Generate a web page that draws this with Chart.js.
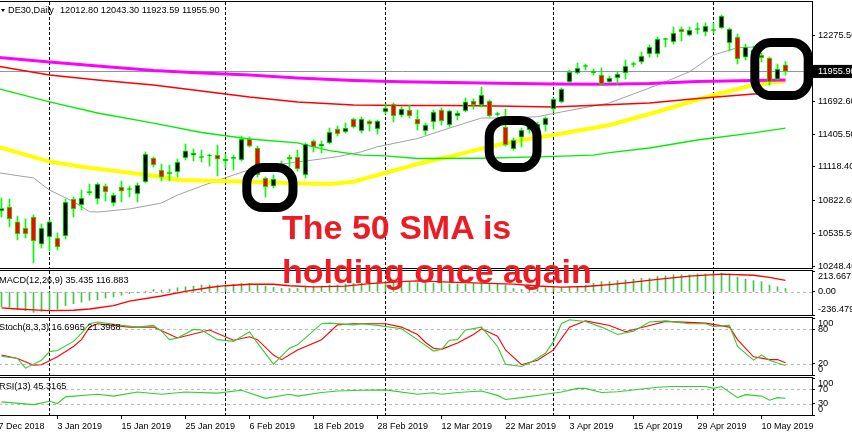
<!DOCTYPE html>
<html>
<head>
<meta charset="utf-8">
<script src="https://cdn.jsdelivr.net/npm/chart.js@4.4.0/dist/chart.umd.min.js"></script>
<style>
    html, body { margin: 0; padding: 0; background: #fff; }
    #wrap { position: relative; width: 852px; height: 437px; overflow: hidden; background: #fff; font-family: "Liberation Sans", Arial, sans-serif; }
    canvas { position: absolute; left: -7px; }
    .frame { position: absolute; left: -2px; width: 815px; box-sizing: border-box; border: 1px solid #000; border-left: none; pointer-events: none; }
    .hdr { position: absolute; font-size: 9.2px; line-height: 11px; white-space: pre; color: #000; }
    .tri { position: absolute; left: 1px; top: 9px; width: 0; height: 0; border-left: 2.5px solid transparent; border-right: 2.5px solid transparent; border-top: 3px solid #000; }
    #note { position: absolute; left: 282px; top: 206px; font-family: "Liberation Sans", Arial, sans-serif; font-weight: bold; font-size: 34px; line-height: 43.5px; color: #ed1c24; white-space: nowrap; }
</style>
</head>
<body>
<div id="wrap">
    <canvas id="mainChart" width="859" height="298" style="top:-14px"></canvas>
    <canvas id="macdChart" width="859" height="76" style="top:255px"></canvas>
    <canvas id="stochChart" width="859" height="89" style="top:302px"></canvas>
    <canvas id="rsiChart" width="859" height="75" style="top:362px"></canvas>

    <div class="frame" style="top:1px;height:268px"></div>
    <div class="frame" style="top:270px;height:46px"></div>
    <div class="frame" style="top:317px;height:59px"></div>
    <div class="frame" style="top:377px;height:39px"></div>

    <div class="tri"></div>
    <div class="hdr" style="left:8px;top:4.6px">DE30,Daily<span style="margin-left:6px">12012.80 12043.30 11923.59 11955.90</span></div>
    <div class="hdr" style="left:-1px;top:275px">MACD(12,26,9) 35.435 116.883</div>
    <div class="hdr" style="left:-1px;top:322.3px">Stoch(8,3,3) 16.6965 21.3968</div>
    <div class="hdr" style="left:-1px;top:381.3px">RSI(13) 45.3165</div>

    <div id="note">The 50 SMA is<br>holding once again</div>
</div>

<script>
// daily bars, index 1 = first visible bar, 99 = 15 May 2019
const opens = [10731,10766,10635,10582,10678,10441,10503,10494,10512,10836,
    10784,10893,10836,10950,10801,10942,10920,10880,10986,11196,
    11091,11073,11073,11196,11222,11201,11218,11222,11170,11192,
    11179,11363,11284,11021,10950,11126,11205,11205,11047,11345,
    11301,11328,11451,11424,11538,11433,11521,11451,11600,11670,
    11573,11617,11538,11433,11512,11617,11486,11565,11609,11696,
    11661,11696,11578,11468,11275,11380,11442,11433,11486,11626,
    11688,11863,11942,11999,11946,11924,11863,11898,11942,12017,
    12039,12109,12109,12236,12214,12328,12275,12324,12302,12315,
    12337,12205,12258,12082,12082,12100,12074,11889,12012.8];
const highs = [10845,10836,10687,10661,10696,10617,10652,10538,10836,10854,
    10915,10968,10977,10968,10889,10994,10950,10977,11249,11205,
    11143,11135,11187,11319,11275,11266,11231,11310,11231,11222,
    11389,11380,11301,11029,11047,11170,11222,11266,11328,11354,
    11345,11459,11477,11503,11547,11556,11530,11530,11670,11679,
    11644,11661,11617,11503,11617,11635,11617,11609,11723,11714,
    11819,11705,11600,11626,11372,11459,11503,11512,11556,11723,
    11810,11968,12030,12021,11977,11986,11916,11951,12056,12039,
    12126,12188,12258,12249,12346,12346,12346,12381,12381,12381,
    12451,12337,12284,12196,12179,12118,12082,12021,12043.3];
const lows = [10678,10591,10477,10494,10275,10406,10380,10389,10485,10678,
    10740,10871,10793,10819,10775,10810,10854,10810,10977,11117,
    10994,10994,11029,11179,11170,11161,11126,11038,11108,11091,
    11170,11293,11029,10854,10933,11073,11117,11082,11021,11249,
    11240,11319,11389,11415,11459,11415,11433,11407,11582,11512,
    11556,11547,11442,11398,11451,11486,11468,11530,11600,11626,
    11644,11556,11565,11301,11266,11293,11415,11398,11433,11600,
    11679,11854,11933,11968,11924,11837,11854,11845,11889,11995,
    12021,12082,12082,12170,12196,12223,12267,12284,12267,12293,
    12333,12135,12021,12056,12056,12039,11837,11881,11923.59];
const closes = [10755,10661,10529,10529,10468,10582,10635,10415,10810,10749,
    10845,10902,10968,10898,10871,10906,10928,10959,11231,11135,
    11029,11056,11161,11258,11240,11209,11222,11187,11187,11201,
    11363,11301,11047,10942,11012,11099,11187,11100,11319,11293,
    11319,11424,11407,11459,11468,11538,11494,11521,11635,11565,
    11626,11565,11494,11486,11600,11521,11609,11591,11688,11661,
    11749,11565,11587,11310,11354,11442,11486,11494,11547,11714,
    11802,11951,11986,12008,11955,11845,11898,11933,12003,12025,
    12091,12170,12240,12245,12293,12302,12319,12332,12354,12324,
    12442,12328,12065,12170,12144,12074,11863,11977,11955.9];

// moving averages, [bar, price]
const sma200 = [[0,12083],[7,12038],[13,12003],[20,11964],[26,11942],[32,11924],[38,11898],[45,11876],[51,11866],
    [57,11859],[63,11852],[70,11846],[76,11843],[82,11850],[88,11867],[95,11876],[99,11881]];
const sma100 = [[0,12008],[7,11924],[13,11881],[20,11837],[26,11784],[32,11731],[38,11688],[45,11661],[51,11657],
    [57,11657],[63,11652],[70,11644],[76,11661],[82,11679],[88,11718],[95,11758],[99,11766]];
const smaGreen = [[0,11815],[7,11688],[13,11591],[20,11503],[26,11420],[32,11363],[38,11328],[42,11260],[46,11222],
    [49,11214],[53,11192],[61,11194],[69,11208],[75,11222],[77,11243],[82,11284],[88,11354],[95,11416],[99,11459]];
const sma50 = [[0,11306],[7,11164],[11,11120],[16,11076],[21,11032],[23,11003],[28,10994],[32,10988],[38,10974],
    [42,10968],[45,10988],[48,11047],[53,11143],[57,11208],[62,11295],[66,11354],[70,11398],[77,11486],[83,11602],
    [90,11749],[95,11837],[99,11872]];
const sma20 = [[0,11073],[5,11021],[7,10915],[10,10813],[12,10725],[13,10722],[17,10749],[21,10801],[23,10871],
    [26,10950],[30,11047],[33,11117],[40,11179],[43,11208],[46,11251],[48,11295],[53,11367],[57,11459],[61,11547],
    [65,11547],[68,11559],[71,11600],[77,11679],[83,11837],[87,11953],[90,12100],[93,12164],[96,12173],[99,12179]];

// MACD(12,26,9)
const macdHist = [-150,-157,-175,-192,-209,-199,-185,-175,-140,-122,
    -105,-87,-80,-63,-52,-35,-17,-10,3,24,
    17,28,42,52,59,70,70,70,70,77,
    87,87,77,59,45,35,35,35,59,59,
    59,70,70,80,87,87,94,105,105,115,
    105,105,94,87,87,87,80,80,80,87,
    87,80,87,70,35,24,45,35,45,45,
    45,52,59,70,87,105,105,115,122,129,
    140,140,157,164,175,175,175,185,185,185,
    192,185,150,129,115,105,70,52,35.435];
const macdSignal = [[1,-164],[3,-175],[5,-185],[7,-192],[10,-188],[12,-175],[15,-140],[17,-95],[21,-42],[24,5],
    [27,45],[29,63],[32,78],[35,78],[37,63],[40,52],[44,59],[47,85],[51,105],[53,112],[57,100],[61,90],[65,80],
    [68,60],[71,48],[74,55],[77,75],[80,100],[83,128],[87,162],[91,182],[95,170],[97,148],[99,116.883]];

// Stochastic(8,3,3)
const stochMain = [[1,33],[3,29],[4,12],[6,26],[7,41],[8,43],[10,59],[11,73],[12,90],[13,93],[16,87],[18,84],
    [20,87],[21,77],[22,62],[23,65],[25,80],[26,79],[28,62],[30,59],[32,76],[33,56],[35,19],[37,47],[38,53],
    [41,90],[42,91],[45,88],[46,90],[48,87],[51,81],[53,62],[55,42],[56,45],[57,61],[58,62],[59,79],[61,84],
    [63,50],[64,19],[66,15],[67,21],[69,38],[70,59],[71,90],[72,97],[74,94],[76,84],[78,71],[80,77],[82,93],
    [84,95],[87,90],[89,90],[90,85],[92,87],[93,50],[95,26],[96,35],[97,26],[98,21],[99,16.6965]];
const stochSignal = [[1,35],[3,29],[5,17],[6,18],[8,32],[10,50],[11,62],[12,84],[13,90],[17,84],[20,84],[23,65],
    [27,79],[30,61],[32,67],[33,62],[35,35],[36,27],[38,44],[41,62],[43,88],[45,90],[49,90],[51,84],[53,71],
    [54,57],[55,47],[56,45],[58,56],[60,71],[61,81],[63,68],[64,44],[66,18],[68,26],[70,44],[72,84],[74,95],
    [77,87],[79,76],[82,87],[84,94],[89,91],[92,84],[93,62],[95,32],[97,27],[98,27],[99,21.3968]];

// RSI(13)
const rsi13 = [[1,35.5],[5,28],[7,37],[8,31],[9,49],[13,56],[15,51],[18,62],[21,56],[24,62],[28,59],[31,67],
    [34,45],[37,56],[38,51],[41,61],[43,65],[46,67],[49,68],[53,56],[55,60],[56,56],[58,61],[61,65],[63,53],
    [64,42],[66,47],[69,56],[71,62],[73,72],[74,72],[76,61],[78,63],[83,75],[85,77],[89,77],[90,72],[91,77],
    [93,47],[94,55],[96,51],[97,40],[98,47],[99,45.3165]];

// axis ticks
const dateTicks = [0, 8, 16, 24, 32, 40, 48, 56, 64, 72, 80, 88, 96];
const dateLabels = ['27 Dec 2018', '3 Jan 2019', '15 Jan 2019', '25 Jan 2019', '6 Feb 2019', '18 Feb 2019',
    '28 Feb 2019', '12 Mar 2019', '22 Mar 2019', '3 Apr 2019', '15 Apr 2019', '29 Apr 2019', '10 May 2019'];
const priceTicks = [10248.4, 10535.5, 10822.6, 11118.4, 11405.5, 11692.6, 11955.9, 12275.5];
const macdTicks = [-236.479, 0, 213.667];
const stochTicks = [0, 20, 80, 100];
const rsiTicks = [0, 30, 70, 100];
const monthStarts = [7, 29, 49, 70, 90];
const lastClose = closes[closes.length - 1];

// the marked spots: bar range and price range
const circles = [
    { from: 31.1, to: 38.0, top: 11152, bottom: 10722 },
    { from: 61.4, to: 68.5, top: 11565, bottom: 11073 },
    { from: 94.6, to: 102.4, top: 12249, bottom: 11705 }
];

Chart.defaults.font.family = '"Liberation Sans", Arial, sans-serif';
Chart.defaults.font.size = 9.2;
Chart.defaults.color = '#000';

const xMin = -0.0625, xMax = 102.3125;
const pad = { top: 16, bottom: 16, left: 0, right: 0 };

// dashed month separators, level lines and the marker rings
const panelPlugin = {
    id: 'panel',
    beforeDatasetsDraw(chart, args, opts) {
        const { ctx, chartArea: a, scales: { x, y } } = chart;
        ctx.save();
        ctx.beginPath();
        ctx.rect(a.left, a.top, a.right - a.left, a.bottom - a.top);
        ctx.clip();
        ctx.lineWidth = 1;
        (opts.levels || []).forEach(l => {
            const py = Math.round(y.getPixelForValue(l.value)) + 0.5;
            ctx.strokeStyle = l.color;
            ctx.setLineDash(l.dash || []);
            ctx.beginPath();
            ctx.moveTo(a.left, py);
            ctx.lineTo(a.right, py);
            ctx.stroke();
        });
        ctx.strokeStyle = '#000';
        ctx.setLineDash([3, 2]);
        monthStarts.forEach(k => {
            const px = Math.floor(x.getPixelForValue(k)) + 0.5;
            ctx.beginPath();
            ctx.moveTo(px, a.top);
            ctx.lineTo(px, a.bottom);
            ctx.stroke();
        });
        ctx.restore();
    },
    afterDatasetsDraw(chart, args, opts) {
        if (!opts.rings) return;
        const { ctx, scales: { x, y } } = chart;
        ctx.save();
        ctx.lineWidth = 9;
        ctx.strokeStyle = '#000';
        opts.rings.forEach(c => {
            const l = x.getPixelForValue(c.from), r = x.getPixelForValue(c.to);
            const t = y.getPixelForValue(c.top), b = y.getPixelForValue(c.bottom);
            ctx.beginPath();
            ctx.roundRect(l + 4.5, t + 4.5, r - l - 9, b - t - 9, 16);
            ctx.stroke();
        });
        ctx.restore();
    }
};

const hiddenX = { type: 'linear', min: xMin, max: xMax, display: false, offset: false };

function yAxis(min, max, tickVals, fmt, tickExtra) {
    return {
        position: 'right',
        min: min,
        max: max,
        afterFit: s => { s.width = 40; s.paddingTop = 0; s.paddingBottom = 0; },
        afterBuildTicks: s => { s.ticks = tickVals.map(v => ({ value: v })); },
        ticks: Object.assign({ autoSkip: false, padding: 3, color: '#000', callback: fmt }, tickExtra || {}),
        grid: { drawOnChartArea: false, drawTicks: true, tickLength: 3, color: '#000' },
        border: { display: false }
    };
}

// labels at the panel edges sit just inside, as in the terminal
function edgeLabel(min, max, text) {
    return function(v) {
        const s = text(v);
        if (v === max) return ['', s];
        if (v === min) return [s, ''];
        return s;
    };
}

function lineSet(points, color, width) {
    return {
        type: 'line',
        data: points.map(p => ({ x: p[0], y: p[1] })),
        borderColor: color,
        borderWidth: width,
        pointRadius: 0,
        tension: 0,
        fill: false,
        order: 5
    };
}

const baseOptions = {
    responsive: false,
    animation: false,
    events: [],
    layout: { padding: pad },
    plugins: { legend: { display: false }, tooltip: { enabled: false } }
};

// main price panel
const bars = opens.map((o, i) => i + 1);
new Chart(document.getElementById('mainChart'), {
    type: 'bar',
    data: {
        datasets: [
            lineSet(sma200, '#ff00ff', 3),
            lineSet(sma100, '#ff0000', 1.5),
            lineSet(smaGreen, '#00ee00', 1.3),
            lineSet(sma50, '#ffff00', 4),
            lineSet(sma20, '#a0a0a0', 1),
            {
                label: 'wick',
                data: bars.map((k, i) => ({ x: k, y: [lows[i], highs[i]] })),
                backgroundColor: '#00ff00',
                barThickness: 1,
                grouped: false,
                order: 2
            },
            {
                label: 'body',
                data: bars.map((k, i) => ({ x: k, y: [opens[i], closes[i]] })),
                backgroundColor: opens.map((o, i) => closes[i] >= o ? '#000000' : '#ff0000'),
                borderColor: '#00ff00',
                borderWidth: 1,
                borderSkipped: false,
                barThickness: 5,
                grouped: false,
                order: 1
            }
        ]
    },
    options: Object.assign({}, baseOptions, {
        plugins: Object.assign({}, baseOptions.plugins, {
            panel: { levels: [{ value: lastClose, color: '#8c969f' }], rings: circles }
        }),
        scales: {
            x: hiddenX,
            y: yAxis(10230.9, 12565.1, priceTicks, v => v.toFixed(2), {
                showLabelBackdrop: c => c.tick && c.tick.value === lastClose,
                backdropColor: '#000',
                backdropPadding: { top: 1, bottom: 1, left: 5, right: 6 },
                color: c => (c.tick && c.tick.value === lastClose) ? '#fff' : '#000'
            })
        }
    }),
    plugins: [panelPlugin]
});

// MACD panel
new Chart(document.getElementById('macdChart'), {
    type: 'bar',
    data: {
        datasets: [
            lineSet(macdSignal, '#ff0000', 1.3),
            {
                data: bars.map((k, i) => ({ x: k, y: macdHist[i] })),
                backgroundColor: '#44c444',
                barThickness: 1,
                grouped: false,
                order: 6
            }
        ]
    },
    options: Object.assign({}, baseOptions, {
        plugins: Object.assign({}, baseOptions.plugins, {
            panel: { levels: [{ value: 0, color: '#b8b8b8', dash: [3, 3] }] }
        }),
        scales: {
            x: hiddenX,
            y: yAxis(-236.479, 213.667, macdTicks,
                edgeLabel(-236.479, 213.667, v => v === 0 ? '0.00' : String(v)))
        }
    }),
    plugins: [panelPlugin]
});

// Stochastic panel
new Chart(document.getElementById('stochChart'), {
    type: 'line',
    data: {
        datasets: [
            lineSet(stochMain, '#33cc33', 1.1),
            lineSet(stochSignal, '#ff0000', 1.1)
        ]
    },
    options: Object.assign({}, baseOptions, {
        plugins: Object.assign({}, baseOptions.plugins, {
            panel: { levels: [{ value: 80, color: '#b8b8b8', dash: [3, 3] }, { value: 20, color: '#b8b8b8', dash: [3, 3] }] }
        }),
        scales: {
            x: hiddenX,
            y: yAxis(0, 100, stochTicks, edgeLabel(0, 100, v => String(v)))
        }
    }),
    plugins: [panelPlugin]
});

// RSI panel with the date axis
new Chart(document.getElementById('rsiChart'), {
    type: 'line',
    data: {
        datasets: [lineSet(rsi13, '#33cc33', 1.1)]
    },
    options: Object.assign({}, baseOptions, {
        layout: { padding: { top: 16, bottom: 0, left: 0, right: 0 } },
        plugins: Object.assign({}, baseOptions.plugins, {
            panel: { levels: [{ value: 70, color: '#b8b8b8', dash: [3, 3] }, { value: 30, color: '#b8b8b8', dash: [3, 3] }] }
        }),
        scales: {
            x: {
                type: 'linear',
                min: xMin,
                max: xMax,
                position: 'bottom',
                offset: false,
                afterFit: s => { s.height = 22; s.paddingLeft = 0; s.paddingRight = 0; },
                afterBuildTicks: s => { s.ticks = dateTicks.map(v => ({ value: v })); },
                ticks: {
                    autoSkip: false,
                    maxRotation: 0,
                    align: 'start',
                    padding: 2,
                    color: '#000',
                    font: { size: 9 },
                    callback: (v, i) => dateLabels[i]
                },
                grid: { drawOnChartArea: false, drawTicks: true, tickLength: 4, color: '#000' },
                border: { display: false }
            },
            y: yAxis(0, 100, rsiTicks, edgeLabel(0, 100, v => String(v)))
        }
    }),
    plugins: [panelPlugin]
});
</script>
</body>
</html>
